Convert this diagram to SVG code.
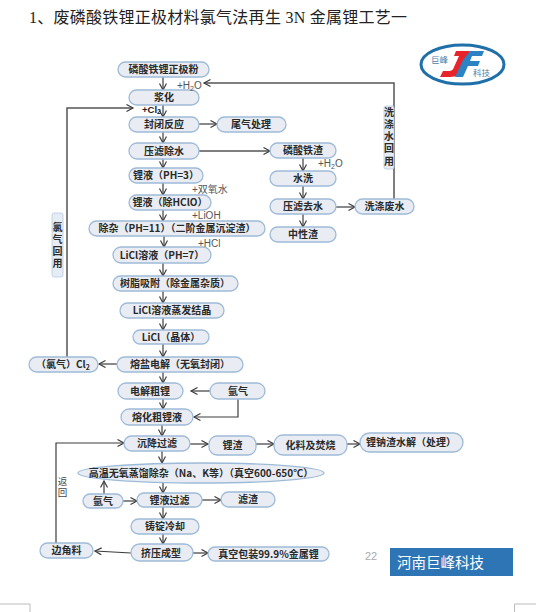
<svg xmlns="http://www.w3.org/2000/svg" width="554" height="612" viewBox="0 0 554 612">
<style>
text{font-family:"Noto Sans CJK SC","Liberation Sans",sans-serif}
.n rect{fill:#e9edf3;stroke:#9dbbd8;stroke-width:1.3}
.n text{font-size:10px;font-weight:700;fill:#2a2a2a;text-anchor:middle}
.c path{fill:none;stroke:#3c3c3c;stroke-width:1.2;marker-end:url(#a)}
.c path.g{stroke:#555;stroke-width:1.5}
.l{font-size:10px;fill:#555;font-family:"Liberation Sans","Noto Sans CJK SC",sans-serif}
.b{font-size:9.500px;font-weight:700;fill:#222;font-family:"Liberation Sans",sans-serif}
.v{font-size:10px;font-weight:700;fill:#2a2a2a;writing-mode:vertical-rl;letter-spacing:2.200px}
.m{stroke:#bbb;stroke-width:1;fill:none}
</style>
<defs>
<marker id="a" markerWidth="10" markerHeight="10" refX="7.500" refY="4" orient="auto" markerUnits="userSpaceOnUse"><path d="M1 0.500L7.500 4L1 7.500" fill="none" stroke="#3c3c3c" stroke-width="1.200"/></marker>
</defs>
<rect width="554" height="612" fill="#fff"/>
<text x="29" y="23" font-size="16" fill="#222" style="font-family:'Liberation Serif','Noto Sans CJK SC',serif" textLength="378">1、废磷酸铁锂正极材料氯气法再生 3N 金属锂工艺一</text>

<g id="connectors" class="c">
<path d="M163 77V90"/>
<path d="M163 105V117"/>
<path d="M163 132V143"/>
<path d="M163 159V168"/>
<path d="M163 183V195"/>
<path d="M163 210V221"/>
<path d="M164 236V247"/>
<path d="M163 263V276"/>
<path d="M163 291V303"/>
<path d="M163 318V330"/>
<path d="M163 344V357"/>
<path d="M163 372V383"/>
<path d="M163 399V409"/>
<path d="M162 425V436"/>
<path d="M162 451V463"/>
<path d="M163 483V493"/>
<path d="M163 507V519"/>
<path d="M163 534V544"/>
<path d="M199 124H217"/>
<path class="g" d="M199 151H270"/>
<path d="M303 158V171"/>
<path d="M303 186V199"/>
<path d="M303 214V227"/>
<path d="M336 207H355"/>
<path class="g" d="M394 199V83H204"/>
<path class="g" d="M67 357V108H133"/>
<path d="M117 364H99"/>
<path d="M210 391H191"/>
<path d="M238 399V417H194"/>
<path d="M190 444H208"/>
<path d="M256 444H274"/>
<path d="M347 444H360"/>
<path d="M56 543V443H124"/>
<path d="M104 494V481"/>
<path d="M123 501H137"/>
<path d="M202 500H221"/>
<path d="M131 553L95 551"/>
<path d="M193 553H208"/>
</g>

<g id="n1" class="n"><rect x="118" y="62" width="91" height="15" rx="7.500"/><text x="163.500" y="73">磷酸铁锂正极粉</text></g>
<g id="n2" class="n"><rect x="129" y="90" width="70" height="15" rx="7.500"/><text x="164" y="101">浆化</text></g>
<g id="n3" class="n"><rect x="129" y="117" width="70" height="15" rx="7.500"/><text x="164" y="128">封闭反应</text></g>
<g id="n4" class="n"><rect x="217" y="117" width="69" height="15" rx="7.500"/><text x="251" y="128">尾气处理</text></g>
<g id="n5" class="n"><rect x="129" y="143" width="70" height="16" rx="8"/><text x="164" y="155">压滤除水</text></g>
<g id="n6" class="n"><rect x="129" y="168" width="74" height="15" rx="7.500"/><text x="166" y="179">锂液（PH=3）</text></g>
<g id="n7" class="n"><rect x="129" y="195" width="82" height="15" rx="7.500"/><text x="170" y="206">锂液（除HClO）</text></g>
<g id="n8" class="n"><rect x="89" y="221" width="176" height="15" rx="7.500"/><text x="177" y="232">除杂（PH=11）（二阶金属沉淀渣）</text></g>
<g id="n9" class="n"><rect x="113" y="247" width="98" height="16" rx="8"/><text x="162" y="259">LiCl溶液（PH=7）</text></g>
<g id="n10" class="n"><rect x="113" y="276" width="125" height="15" rx="7.500"/><text x="175" y="287">树脂吸附（除金属杂质）</text></g>
<g id="n11" class="n"><rect x="120" y="303" width="104" height="15" rx="7.500"/><text x="172" y="314">LiCl溶液蒸发结晶</text></g>
<g id="n12" class="n"><rect x="133" y="330" width="76" height="14" rx="7"/><text x="171" y="341">LiCl（晶体）</text></g>
<g id="n13" class="n"><rect x="117" y="357" width="126" height="15" rx="7.500"/><text x="180" y="368">熔盐电解（无氧封闭）</text></g>
<g id="n14" class="n"><rect x="29" y="357" width="69" height="15" rx="7.500"/><text x="63" y="368">（氯气）Cl<tspan font-size="7" dy="2">2</tspan></text></g>
<g id="n15" class="n"><rect x="118" y="383" width="65" height="16" rx="8"/><text x="150" y="395">电解粗锂</text></g>
<g id="n16" class="n"><rect x="210" y="383" width="55" height="16" rx="8"/><text x="238" y="395">氩气</text></g>
<g id="n17" class="n"><rect x="121" y="409" width="72" height="16" rx="8"/><text x="157" y="421">熔化粗锂液</text></g>
<g id="n18" class="n"><rect x="124" y="436" width="66" height="15" rx="7.500"/><text x="157" y="447">沉降过滤</text></g>
<g id="n19" class="n"><rect x="209" y="436" width="47" height="19" rx="8"/><text x="232.500" y="449">锂渣</text></g>
<g id="n20" class="n"><rect x="274" y="435" width="73" height="20" rx="9"/><text x="310.500" y="449">化料及焚烧</text></g>
<g id="n21" class="n"><rect x="360" y="433" width="103" height="19" rx="9.500"/><text x="411" y="446">锂钠渣水解（处理）</text></g>
<g id="n22" class="n"><ellipse cx="201" cy="473" rx="123" ry="10" fill="#e9edf3" stroke="#9dbbd8" stroke-width="1.300"/><text x="201" y="477">高温无氧蒸馏除杂（Na、K等）（真空600-650℃）</text></g>
<g id="n23" class="n"><rect x="83" y="494" width="40" height="14" rx="7"/><text x="103" y="505">氩气</text></g>
<g id="n24" class="n"><rect x="137" y="493" width="65" height="14" rx="7"/><text x="169.500" y="504">锂液过滤</text></g>
<g id="n25" class="n"><rect x="221" y="492" width="54" height="15" rx="7.500"/><text x="248" y="503">滤渣</text></g>
<g id="n26" class="n"><rect x="131" y="519" width="68" height="15" rx="7.500"/><text x="165" y="530">铸锭冷却</text></g>
<g id="n27" class="n"><rect x="40" y="543" width="53" height="15" rx="7.500"/><text x="66.500" y="554">边角料</text></g>
<g id="n28" class="n"><rect x="131" y="544" width="62" height="17" rx="8.500"/><text x="161" y="557">挤压成型</text></g>
<g id="n29" class="n"><rect x="208" y="547" width="121" height="14" rx="7"/><text x="268.500" y="558">真空包装99.9%金属锂</text></g>
<g id="n30" class="n"><rect x="270" y="143" width="66" height="15" rx="7.500"/><text x="303" y="154">磷酸铁渣</text></g>
<g id="n31" class="n"><rect x="270" y="171" width="66" height="15" rx="7.500"/><text x="303" y="182">水洗</text></g>
<g id="n32" class="n"><rect x="270" y="199" width="66" height="15" rx="7.500"/><text x="303" y="210">压滤去水</text></g>
<g id="n33" class="n"><rect x="270" y="227" width="66" height="15" rx="7.500"/><text x="303" y="238">中性渣</text></g>
<g id="n34" class="n"><rect x="355" y="199" width="59" height="15" rx="7.500"/><text x="384.500" y="210">洗涤废水</text></g>

<g id="label-wash">
<rect x="384" y="106" width="10" height="63" rx="2" fill="#e6ecf4" stroke="#b5cbe0" stroke-width=".8"/>
<text class="v" x="389" y="107">洗涤水回用</text>
</g>
<g id="label-cl">
<rect x="52" y="213" width="11" height="64" rx="2" fill="#e6ecf4" stroke="#b5cbe0" stroke-width=".8"/>
<text class="v" x="57.500" y="222">氯气回用</text>
</g>
<g id="label-return">
<text x="62.500" y="477" font-size="9.500" fill="#444" style="writing-mode:vertical-rl;letter-spacing:1.500px">返回</text>
</g>

<g id="inputs">
<text class="l" x="177" y="89">+H<tspan font-size="7" dy="2">2</tspan><tspan dy="-2">O</tspan></text>
<text class="b" x="142" y="113">+Cl<tspan font-size="7" dy="1">2</tspan></text>
<text class="l" x="192" y="193">+双氧水</text>
<text class="l" x="192" y="219">+LiOH</text>
<text class="l" x="198" y="247">+HCl</text>
<text class="l" x="318" y="167">+H<tspan font-size="7" dy="2">2</tspan><tspan dy="-2">O</tspan></text>
</g>

<g id="logo">
<ellipse cx="462.500" cy="64.500" rx="41.500" ry="19.500" fill="#fff" stroke="#1f6fa8" stroke-width="3"/>
<path d="M456 51H470L462 70Q460 77 450 77H440L443 71H449Q453 71 454 67L459 56H454Z" fill="#e8232a"/>
<path d="M470 51H484L482 56H472L470 61H480L478 66H468L463 77H455L463 60Z" fill="#2b83c4"/>
<text x="431" y="63" font-size="8.500" fill="#4a7fa8">巨峰</text>
<text x="473" y="76" font-size="8.500" fill="#4a7fa8">科技</text>
</g>

<g id="footer">
<text x="365" y="560" font-size="11" fill="#aaa" style="font-family:'Liberation Sans',sans-serif">22</text>
<rect x="390" y="548" width="123" height="28" fill="#2e75b6"/>
<text x="397" y="568" font-size="14.500" fill="#fff">河南巨峰科技</text>
<path class="m" d="M0 604H30V612M536 604H514.500V612"/>
</g>
</svg>
